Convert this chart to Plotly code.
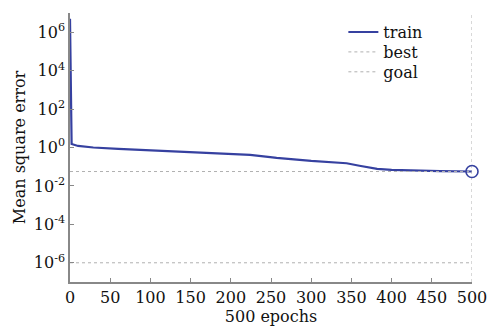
import numpy as np
import plotly.graph_objects as go

# Data
epochs = [0, 1, 2, 10, 29, 60, 112, 150, 195, 224, 249, 257, 300, 336, 344, 360, 382, 400, 423, 460, 500]
log_mse = [6.7, 1.6, 0.18, 0.08, 0.0, -0.07, -0.16, -0.22, -0.31, -0.38, -0.5, -0.54, -0.7, -0.77, -0.82, -0.95, -1.11, -1.16, -1.2, -1.23, -1.25]
train = [10 ** v for v in log_mse]
best_epoch = 500
best_value = 10 ** -1.25
goal_value = 1e-6
x_ticks = [0, 50, 100, 150, 200, 250, 300, 350, 400, 450, 500]
y_exps = [-6, -4, -2, 0, 2, 4, 6]

blue = "#3641a0"
gray = "#b0b0b0"
font_family = "DejaVu Serif, Liberation Serif, serif"
fs = 16

fig = go.Figure()
fig.add_trace(go.Scatter(x=epochs, y=train, mode="lines", name="train", legend="legend",
                         line=dict(color=blue, width=2.2)))
fig.add_trace(go.Scatter(x=[0, 500], y=[best_value, best_value], mode="lines", name="best", legend="legend2",
                         line=dict(color=gray, width=1, dash="dot")))
fig.add_trace(go.Scatter(x=[0, 500], y=[goal_value, goal_value], mode="lines", name="goal", legend="legend3",
                         line=dict(color=gray, width=1, dash="dot")))
fig.add_trace(go.Scatter(x=[best_epoch, best_epoch], y=[1e-7, 1e7], mode="lines", showlegend=False,
                         line=dict(color=gray, width=1, dash="dot"), cliponaxis=False))
fig.add_trace(go.Scatter(x=[best_epoch], y=[best_value], mode="markers", showlegend=False,
                         marker=dict(symbol="circle-open", size=12, color=blue, line=dict(width=1.6, color=blue)),
                         cliponaxis=False))

def leg(y):
    return dict(x=0.68, y=y, xanchor="left", yanchor="middle",
                bgcolor="rgba(255,255,255,0)", font=dict(size=fs, family=font_family, color="#111"),
                itemwidth=30)

fig.update_layout(
    width=492, height=326,
    margin=dict(l=70, r=20, t=13, b=44, autoexpand=False),
    paper_bgcolor="white", plot_bgcolor="white",
    font=dict(family=font_family, size=fs, color="#111"),
    legend=leg(0.929), legend2=leg(0.855), legend3=leg(0.781),
    xaxis=dict(range=[0, 500], tickvals=x_ticks, ticks="inside", ticklen=4,
               tickcolor="#888", showline=True, linecolor="#888", linewidth=1.5,
               showgrid=False, zeroline=False, tickfont=dict(size=fs, family=font_family),
               ticklabelstandoff=0, automargin=False,
               title=dict(text="500 epochs", standoff=2, font=dict(size=fs, family=font_family))),
    yaxis=dict(type="log", range=[-7, 7], tickvals=[10 ** e for e in y_exps],
               ticktext=["10<sup>%d</sup>" % e for e in y_exps],
               ticks="inside", ticklen=4, tickcolor="#888",
               showline=True, linecolor="#888", linewidth=1.5,
               showgrid=False, zeroline=False, tickfont=dict(size=fs, family=font_family),
               automargin=False,
               title=dict(text="Mean square error", standoff=4, font=dict(size=fs, family=font_family))),
    showlegend=True,
)

fig.write_html("out.html")
